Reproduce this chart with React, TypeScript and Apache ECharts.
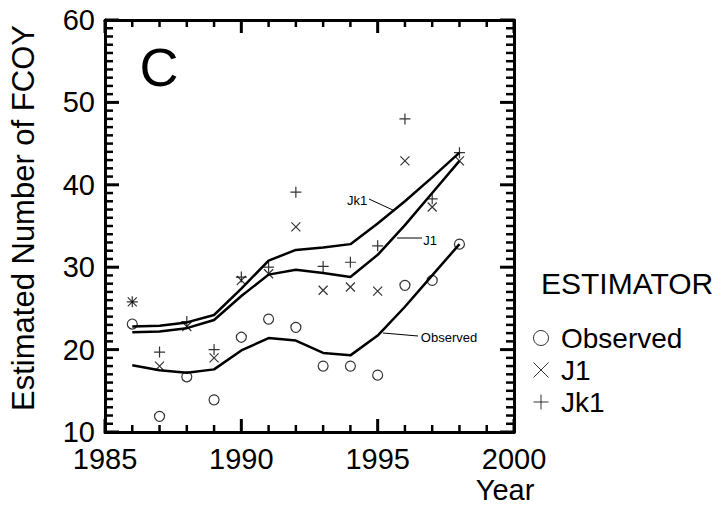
import React, { useEffect, useRef } from "react";
import * as echarts from "echarts";

const years = [1986, 1987, 1988, 1989, 1990, 1991, 1992, 1993, 1994, 1995, 1996, 1997, 1998];
const observedPts = [23.1, 11.9, 16.7, 13.9, 21.5, 23.7, 22.7, 18.0, 18.0, 16.9, 27.8, 28.4, 32.8];
const j1Pts = [25.8, 18.0, 22.8, 19.0, 28.4, 29.2, 34.9, 27.2, 27.6, 27.1, 42.9, 37.3, 42.9];
const jk1Pts = [25.8, 19.7, 23.4, 20.0, 28.8, 30.0, 39.1, 30.1, 30.6, 32.6, 48.0, 38.3, 43.9];
const observedLine = [18.1, 17.5, 17.2, 17.6, 19.9, 21.4, 21.1, 19.6, 19.3, 21.7, 25.2, 29.0, 32.8];
const j1Line = [22.1, 22.2, 22.6, 23.6, 26.5, 29.1, 29.7, 29.3, 28.8, 31.5, 35.1, 39.0, 42.9];
const jk1Line = [22.8, 22.9, 23.3, 24.2, 27.4, 30.8, 32.1, 32.4, 32.8, 35.3, 38.0, 40.9, 43.9];
const estimatorNames = ["Observed", "J1", "Jk1"];

const X_MIN = 1985;
const X_MAX = 2000;
const X_STEP = 5;
const Y_MIN = 10;
const Y_MAX = 60;
const Y_STEP = 10;

const FONT = "'Liberation Sans', Arial, Helvetica, sans-serif";
const CROSS = "path://M0,0L10,10M10,0L0,10";
const PLUS = "path://M5,0L5,10M0,5L10,5";

const pairs = (vals: number[]) => years.map((y, i) => [y, vals[i]]);

// inward tick marks on all four sides: every year on x, every unit on y
const xTickData: number[][] = [];
for (let v = X_MIN; v <= X_MAX; v += 1) xTickData.push([v, Y_MIN, (v - X_MIN) % X_STEP === 0 ? 1 : 0]);
const yTickData: number[][] = [];
for (let v = Y_MIN; v <= Y_MAX; v += 1) yTickData.push([X_MIN, v, (v - Y_MIN) % Y_STEP === 0 ? 1 : 0]);

function frameAxis(min: number, max: number, interval: number, position: string) {
  return {
    type: "value",
    min,
    max,
    interval,
    position,
    axisLine: { show: true, onZero: false, lineStyle: { color: "#000", width: 3 } },
    axisTick: { show: false },
    minorTick: { show: false },
    splitLine: { show: false },
    axisLabel: { show: false },
  };
}

export default function App() {
  const ref = useRef<HTMLDivElement>(null);
  useEffect(() => {
    if (!ref.current) return;
    const chart = echarts.init(ref.current, null, { renderer: "svg" });
    const labelStyle = { show: true, fontSize: 29, color: "#000", fontFamily: FONT };
    const tickStyle = (major: boolean) => ({ stroke: "#000", lineWidth: major ? 3 : 2.5, fill: "none" });
    const option = {
      animation: false,
      backgroundColor: "#fff",
      grid: { left: 103, right: 209, top: 20, bottom: 81, containLabel: false },
      xAxis: [
        {
          ...frameAxis(X_MIN, X_MAX, X_STEP, "bottom"),
          axisLabel: { ...labelStyle, margin: 12, formatter: (v: number) => String(v) },
        },
        frameAxis(X_MIN, X_MAX, X_STEP, "top"),
      ],
      yAxis: [
        {
          ...frameAxis(Y_MIN, Y_MAX, Y_STEP, "left"),
          name: "Estimated Number of FCOY",
          nameLocation: "middle",
          nameGap: 66,
          nameTextStyle: { fontSize: 31, color: "#000", fontFamily: FONT, padding: [0, 0, 0, 16] },
          axisLabel: { ...labelStyle, margin: 10, formatter: (v: number) => String(v) },
        },
        frameAxis(Y_MIN, Y_MAX, Y_STEP, "right"),
      ],
      legend: {
        orient: "vertical",
        left: 526,
        top: 319,
        itemWidth: 30,
        itemHeight: 15,
        itemGap: 4,
        symbolKeepAspect: true,
        selectedMode: false,
        textStyle: { fontSize: 28, color: "#000", fontFamily: FONT },
        data: [
          { name: estimatorNames[0], icon: "circle", itemStyle: { color: "none", borderColor: "#000", borderWidth: 1 } },
          { name: estimatorNames[1], icon: CROSS, itemStyle: { color: "none", borderColor: "#000", borderWidth: 1 } },
          { name: estimatorNames[2], icon: PLUS, itemStyle: { color: "none", borderColor: "#000", borderWidth: 1 } },
        ],
      },
      series: [
        {
          name: "xticks",
          type: "custom",
          silent: true,
          clip: false,
          z: 10,
          data: xTickData,
          renderItem: (_p: any, api: any) => {
            const v = api.value(0);
            const major = api.value(2) === 1;
            const len = major ? 13 : 7;
            const [x, yb] = api.coord([v, Y_MIN]);
            const yt = api.coord([v, Y_MAX])[1];
            return {
              type: "group",
              children: [
                { type: "line", shape: { x1: x, y1: yb, x2: x, y2: yb - len }, style: tickStyle(major) },
                { type: "line", shape: { x1: x, y1: yt, x2: x, y2: yt + len }, style: tickStyle(major) },
              ],
            };
          },
        },
        {
          name: "yticks",
          type: "custom",
          silent: true,
          clip: false,
          z: 10,
          data: yTickData,
          renderItem: (_p: any, api: any) => {
            const v = api.value(1);
            const major = api.value(2) === 1;
            const len = major ? 14 : 8;
            const [xl, y] = api.coord([X_MIN, v]);
            const xr = api.coord([X_MAX, v])[0];
            return {
              type: "group",
              children: [
                { type: "line", shape: { x1: xl, y1: y, x2: xl + len, y2: y }, style: tickStyle(major) },
                { type: "line", shape: { x1: xr, y1: y, x2: xr - len, y2: y }, style: tickStyle(major) },
              ],
            };
          },
        },
        { name: estimatorNames[0] + " fit", type: "line", data: pairs(observedLine), symbol: "none", lineStyle: { color: "#000", width: 2.5 }, silent: true },
        { name: estimatorNames[1] + " fit", type: "line", data: pairs(j1Line), symbol: "none", lineStyle: { color: "#000", width: 2.5 }, silent: true },
        { name: estimatorNames[2] + " fit", type: "line", data: pairs(jk1Line), symbol: "none", lineStyle: { color: "#000", width: 2.5 }, silent: true },
        { name: estimatorNames[0], type: "scatter", data: pairs(observedPts), symbol: "circle", symbolSize: 10, itemStyle: { color: "none", borderColor: "#000", borderWidth: 1.2 } },
        { name: estimatorNames[1], type: "scatter", data: pairs(j1Pts), symbol: CROSS, symbolSize: 9, itemStyle: { color: "none", borderColor: "#000", borderWidth: 1.2 } },
        { name: estimatorNames[2], type: "scatter", data: pairs(jk1Pts), symbol: PLUS, symbolSize: 11, itemStyle: { color: "none", borderColor: "#000", borderWidth: 1.2 } },
      ],
      graphic: [
        { type: "text", x: 159, y: 67, style: { text: "C", fontSize: 54, fontFamily: FONT, fill: "#000", textAlign: "center", textVerticalAlign: "middle" } },
        { type: "text", x: 505, y: 490, style: { text: "Year", fontSize: 29, fontFamily: FONT, fill: "#000", textAlign: "center", textVerticalAlign: "middle" } },
        { type: "text", x: 541, y: 283, style: { text: "ESTIMATOR", fontSize: 30, fontFamily: FONT, fill: "#000", textAlign: "left", textVerticalAlign: "middle" } },
        { type: "text", x: 357, y: 200, style: { text: "Jk1", fontSize: 13, fontFamily: FONT, fill: "#000", textAlign: "center", textVerticalAlign: "middle" } },
        { type: "line", shape: { x1: 369, y1: 199, x2: 395, y2: 211 }, style: { stroke: "#000", lineWidth: 1 } },
        { type: "text", x: 430, y: 240, style: { text: "J1", fontSize: 13, fontFamily: FONT, fill: "#000", textAlign: "center", textVerticalAlign: "middle" } },
        { type: "line", shape: { x1: 397, y1: 238, x2: 422, y2: 238 }, style: { stroke: "#000", lineWidth: 1 } },
        { type: "text", x: 449, y: 337, style: { text: "Observed", fontSize: 13, fontFamily: FONT, fill: "#000", textAlign: "center", textVerticalAlign: "middle" } },
        { type: "line", shape: { x1: 383, y1: 333, x2: 418, y2: 336 }, style: { stroke: "#000", lineWidth: 1 } },
      ],
    };
    chart.setOption(option as any);
    return () => chart.dispose();
  }, []);
  return <div ref={ref} style={{ position: "fixed", left: 0, top: 0, width: 723, height: 513 }} />;
}
